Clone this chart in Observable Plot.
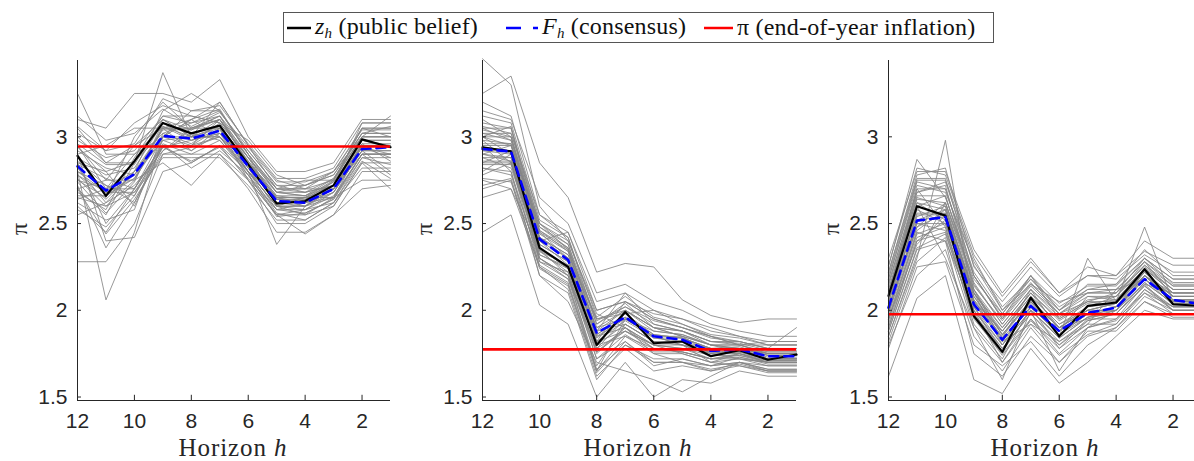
<!DOCTYPE html>
<html>
<head>
<meta charset="utf-8">
<script src="https://cdn.jsdelivr.net/npm/d3@7"></script>
<script src="https://cdn.jsdelivr.net/npm/@observablehq/plot@0.6"></script>
<style>
  html, body { margin: 0; padding: 0; background: #fff; overflow: hidden; }
  #wrap { position: relative; width: 1194px; height: 461px; overflow: hidden; }
  .panel { position: absolute; top: 50px; }
  .panel svg { max-width: none !important; }
  .xlab { position: absolute; top: 437px; line-height: 22px; font-family: "Liberation Serif", "DejaVu Serif", serif; font-size: 25px; letter-spacing: 0.9px; color: #262626; transform: translateX(-50%); white-space: nowrap; }
  .ylab { position: absolute; top: 229px; line-height: 22px; font-family: "Liberation Serif", serif; font-size: 24px; color: #262626; transform: translate(-50%, -50%) rotate(-90deg); }
  #legend { position: absolute; left: 283px; top: 12px; width: 711px; height: 31px; box-sizing: border-box; border: 1px solid #555; background: #fff;
            font-family: "Liberation Serif", serif; font-size: 24px; letter-spacing: 0.2px; color: #111; white-space: nowrap; }
  #legend .item { position: absolute; top: 0; height: 29px; display: flex; align-items: center; }
  #legend svg { margin-right: 4px; }
  sub { font-size: 15px; vertical-align: -4px; }
</style>
</head>
<body>
<div id="wrap">
  <div id="legend">
    <div class="item" style="left:3px"><svg width="24" height="10"><line x1="0" y1="5" x2="24" y2="5" stroke="#000" stroke-width="2.5"/></svg><span><i>z</i><sub><i>h</i></sub> (public belief)</span></div>
    <div class="item" style="left:222px"><svg width="32" height="10"><line x1="0" y1="5" x2="32" y2="5" stroke="#0000ff" stroke-width="2.5" stroke-dasharray="15,12,5"/></svg><span><i>F</i><sub><i>h</i></sub> (consensus)</span></div>
    <div class="item" style="left:420px"><svg width="29" height="10"><line x1="0" y1="5" x2="29" y2="5" stroke="#ff0000" stroke-width="2.5"/></svg><span>π (end-of-year inflation)</span></div>
  </div>
</div>
<script>
const horizons = [12, 11, 10, 9, 8, 7, 6, 5, 4, 3, 2, 1];
const xTicks = [12, 10, 8, 6, 4, 2];
const yTicks = [1.5, 2, 2.5, 3];

// Panel 1
const p1Z = [2.89, 2.66, 2.86, 3.08, 3.02, 3.065, 2.84, 2.615, 2.63, 2.72, 2.985, 2.94];
const p1F = [2.83, 2.69, 2.785, 3.005, 2.99, 3.035, 2.83, 2.63, 2.62, 2.70, 2.93, 2.94];
const p1Pi = 2.944;
const p1Grey = [
  [2.95,2.75,2.75,3.05,3.05,3.10,2.85,2.65,2.60,2.70,2.95,2.95],
  [2.70,2.55,2.85,3.10,3.00,3.00,2.80,2.60,2.60,2.75,3.00,3.00],
  [3.25,2.90,2.90,3.00,3.15,3.15,2.90,2.70,2.70,2.70,2.90,2.90],
  [2.60,2.45,2.70,2.95,2.95,3.05,2.75,2.55,2.55,2.65,2.95,2.95],
  [2.85,2.80,2.60,2.95,2.85,2.95,2.80,2.60,2.65,2.75,3.05,3.05],
  [2.75,2.65,3.00,3.20,3.05,3.10,2.85,2.65,2.65,2.70,2.95,2.95],
  [2.90,2.95,3.05,3.05,3.10,3.20,2.95,2.75,2.70,2.80,3.00,3.00],
  [2.28,2.28,2.50,2.90,2.90,2.90,2.75,2.50,2.50,2.60,2.85,2.85],
  [2.80,2.06,2.45,3.00,3.00,3.05,2.80,2.60,2.60,2.65,2.90,2.90],
  [3.05,2.85,2.85,3.37,3.00,3.00,2.85,2.65,2.65,2.65,2.75,2.75],
  [2.65,2.60,2.75,2.85,2.72,2.90,2.70,2.45,2.45,2.55,2.80,2.80],
  [3.10,3.05,3.25,3.25,3.20,3.33,3.00,2.80,2.80,2.85,3.10,3.10],
  [2.75,2.70,2.70,3.00,3.10,3.00,2.80,2.38,2.60,2.70,2.95,2.95],
  [2.95,2.70,2.80,3.15,3.25,3.15,2.90,2.70,2.70,2.75,3.05,3.05],
  [2.85,2.50,2.70,2.95,2.95,3.10,2.90,2.60,2.55,2.60,2.85,2.70],
  [2.70,2.75,2.95,3.05,3.05,3.05,2.80,2.65,2.62,2.65,2.90,2.78],
  [2.90,2.40,2.42,2.80,2.85,2.95,2.75,2.55,2.44,2.55,2.70,2.72],
  [3.00,2.85,2.95,3.10,3.00,3.20,2.95,2.70,2.75,2.75,3.00,3.12],
  [2.55,2.62,2.80,3.00,2.95,3.00,2.85,2.62,2.65,2.72,2.98,2.98],
  [2.80,2.72,2.62,2.92,3.02,2.98,2.78,2.58,2.58,2.62,2.88,2.88],
  [2.68,2.58,2.88,3.12,3.12,3.08,2.88,2.68,2.72,2.78,3.02,3.02],
  [2.92,2.82,2.78,2.98,2.92,3.05,2.82,2.62,2.62,2.68,2.92,2.92],
  [2.78,2.68,2.68,2.88,2.88,2.88,2.72,2.52,2.52,2.62,2.82,2.82],
  [2.62,2.52,2.58,3.02,3.08,3.12,2.92,2.72,2.68,2.72,3.08,3.08],
  [3.02,2.92,3.08,3.18,3.12,3.08,2.98,2.78,2.72,2.80,3.05,3.00],
  [2.72,2.36,2.62,2.95,2.82,2.92,2.78,2.55,2.58,2.68,2.92,2.80],
  [2.88,2.78,2.82,3.08,2.98,3.02,2.85,2.68,2.68,2.72,2.95,2.95],
  [2.82,2.62,2.72,2.92,3.05,3.12,2.88,2.62,2.62,2.70,2.98,2.95],
  [2.98,2.88,2.92,3.12,3.08,3.15,2.92,2.72,2.72,2.78,3.02,3.02],
  [2.66,2.66,2.78,3.05,2.92,3.02,2.84,2.62,2.60,2.68,2.94,2.90],
  [2.86,2.72,2.66,2.98,3.00,3.10,2.86,2.66,2.64,2.74,2.96,2.86],
  [2.74,2.56,2.74,3.08,3.02,3.06,2.82,2.58,2.56,2.64,2.90,2.90],
  [3.06,2.92,2.96,3.22,3.15,3.18,2.96,2.76,2.76,2.82,3.08,3.08],
  [2.58,2.48,2.66,2.94,2.98,3.02,2.80,2.56,2.52,2.62,2.86,2.76],
  [2.94,2.80,2.86,3.02,2.96,3.08,2.88,2.68,2.66,2.74,2.98,2.98],
  [2.78,2.64,2.80,3.04,3.04,3.12,2.84,2.64,2.64,2.70,2.96,2.96],
  [2.84,2.76,2.70,2.96,2.90,2.98,2.80,2.60,2.58,2.66,2.90,2.90],
  [2.70,2.44,2.64,2.90,2.94,3.00,2.78,2.54,2.56,2.64,2.88,2.84],
  [3.12,2.98,3.02,3.16,3.06,3.14,2.94,2.74,2.74,2.80,3.04,3.04],
  [2.64,2.70,2.90,3.06,3.00,3.06,2.86,2.66,2.66,2.72,2.98,2.94],
  [2.90,2.66,2.76,3.00,3.10,3.16,2.90,2.68,2.66,2.76,3.00,3.00],
  [2.76,2.60,2.68,2.94,2.86,2.94,2.76,2.58,2.62,2.70,2.94,2.88],
  [2.96,2.84,2.84,3.10,3.04,3.10,2.88,2.70,2.68,2.76,3.02,3.06],
  [2.80,2.68,2.76,3.06,2.98,3.04,2.82,2.64,2.62,2.70,2.92,2.92]
];

// Panel 2
const p2Z = [2.94, 2.916, 2.36, 2.25, 1.80, 1.99, 1.81, 1.82, 1.735, 1.77, 1.715, 1.745];
const p2F = [2.93, 2.915, 2.41, 2.29, 1.87, 1.96, 1.85, 1.83, 1.765, 1.775, 1.735, 1.735];
const p2Pi = 1.775;
const p2Grey = [
  [3.00,3.00,2.45,2.30,1.85,1.95,1.85,1.85,1.80,1.80,1.75,1.75],
  [2.85,2.85,2.30,2.20,1.75,1.90,1.80,1.80,1.75,1.75,1.70,1.70],
  [3.45,3.30,2.60,2.40,2.00,2.05,1.95,1.90,1.85,1.80,1.80,1.80],
  [2.75,2.70,2.25,2.15,1.65,1.85,1.75,1.75,1.70,1.75,1.70,1.70],
  [3.05,3.05,2.50,2.35,1.95,2.00,1.90,1.85,1.80,1.80,1.75,1.75],
  [2.45,2.55,2.03,1.92,1.50,1.70,1.50,1.60,1.58,1.65,1.62,1.62],
  [3.25,3.35,2.85,2.65,2.22,2.27,2.25,2.06,1.97,1.93,1.95,1.95],
  [2.90,2.95,2.40,2.30,1.90,1.95,1.85,1.80,1.78,1.78,1.75,1.75],
  [3.10,3.00,2.40,2.45,2.05,2.10,2.00,1.95,1.90,1.85,1.80,1.80],
  [2.95,2.80,2.20,2.10,1.60,1.80,1.70,1.70,1.65,1.70,1.65,1.65],
  [2.80,2.90,2.35,2.25,1.80,2.00,1.90,1.85,1.75,1.78,1.72,1.72],
  [3.00,2.95,2.50,2.40,1.98,1.90,1.80,1.75,1.70,1.72,1.68,1.68],
  [2.70,2.75,2.20,2.05,1.70,1.65,1.60,1.53,1.62,1.70,1.66,1.66],
  [3.15,3.10,2.65,2.50,2.10,2.15,2.05,2.00,1.92,1.88,1.85,1.85],
  [2.88,2.88,2.32,2.25,1.88,1.92,1.82,1.82,1.78,1.76,1.72,1.72],
  [3.05,2.98,2.45,2.35,1.82,2.05,1.95,1.90,1.85,1.82,1.78,1.90],
  [2.92,2.92,2.28,2.18,1.78,1.88,1.78,1.78,1.72,1.72,1.70,1.70],
  [2.65,2.70,2.35,2.20,1.65,1.95,1.85,1.80,1.70,1.68,1.65,1.65],
  [3.02,3.02,2.55,2.42,1.92,2.02,1.92,1.88,1.82,1.82,1.78,1.78],
  [2.98,2.85,2.38,2.28,1.85,1.90,1.75,1.70,1.68,1.73,1.70,1.70],
  [3.08,3.05,2.42,2.32,1.95,1.98,2.00,1.92,1.85,1.80,1.82,1.82],
  [2.82,2.80,2.28,2.22,1.72,1.82,1.68,1.72,1.68,1.70,1.68,1.68],
  [2.95,2.95,2.48,2.38,1.88,2.10,1.92,1.88,1.80,1.76,1.76,1.76],
  [2.78,2.85,2.25,2.12,1.62,1.78,1.65,1.68,1.65,1.68,1.64,1.64],
  [3.20,3.12,2.55,2.45,2.00,2.05,1.98,1.95,1.88,1.85,1.82,1.82],
  [2.90,2.88,2.38,2.28,1.80,1.85,1.78,1.76,1.72,1.75,1.72,1.72],
  [3.00,2.90,2.42,2.30,1.78,1.95,1.88,1.86,1.80,1.78,1.74,1.74],
  [2.85,2.92,2.30,2.18,1.68,1.92,1.82,1.80,1.75,1.72,1.70,1.70],
  [2.96,2.96,2.44,2.34,1.86,1.98,1.86,1.84,1.78,1.78,1.74,1.74],
  [2.88,2.82,2.36,2.24,1.76,1.88,1.80,1.78,1.74,1.76,1.72,1.72],
  [3.04,3.00,2.48,2.36,1.92,2.04,1.90,1.88,1.82,1.80,1.76,1.76],
  [2.82,2.78,2.30,2.20,1.72,1.86,1.76,1.76,1.72,1.74,1.70,1.70],
  [3.12,3.08,2.52,2.42,1.96,2.08,1.96,1.92,1.86,1.84,1.80,1.80],
  [2.92,2.90,2.34,2.26,1.82,1.94,1.84,1.82,1.76,1.76,1.72,1.72],
  [2.76,2.74,2.26,2.16,1.66,1.80,1.72,1.72,1.68,1.70,1.66,1.66],
  [3.00,3.06,2.46,2.34,1.90,2.00,1.88,1.86,1.80,1.78,1.75,1.75],
  [2.86,2.86,2.40,2.26,1.84,1.96,1.86,1.84,1.78,1.77,1.73,1.73],
  [2.94,2.92,2.36,2.24,1.80,1.92,1.82,1.80,1.74,1.74,1.71,1.71],
  [3.06,3.02,2.50,2.38,1.94,2.02,1.94,1.90,1.84,1.82,1.78,1.78],
  [2.72,2.76,2.24,2.14,1.64,1.82,1.70,1.70,1.66,1.69,1.65,1.65],
  [2.98,2.96,2.42,2.32,1.86,1.96,1.84,1.84,1.78,1.79,1.74,1.74],
  [2.84,2.84,2.34,2.22,1.76,1.90,1.78,1.76,1.72,1.73,1.69,1.69],
  [3.02,2.98,2.46,2.36,1.88,2.00,1.90,1.88,1.82,1.81,1.77,1.77],
  [2.90,2.86,2.32,2.24,1.82,1.88,1.80,1.78,1.76,1.75,1.71,1.71]
];

// Panel 3
const p3Z = [2.083, 2.60, 2.546, 1.967, 1.76, 2.073, 1.85, 2.025, 2.045, 2.237, 2.035, 2.025];
const p3F = [2.015, 2.517, 2.537, 2.035, 1.83, 2.025, 1.88, 1.985, 2.015, 2.18, 2.06, 2.035];
const p3Pi = 1.977;
const p3Grey = [
  [2.05,2.55,2.55,2.05,1.85,2.05,1.90,2.00,2.00,2.20,2.05,2.05],
  [1.90,2.40,2.45,1.95,1.75,1.95,1.80,1.95,1.95,2.15,2.00,2.00],
  [2.20,2.75,2.75,2.30,2.00,2.15,2.05,2.10,2.10,2.30,2.15,2.15],
  [1.62,2.07,2.20,1.60,1.52,1.78,1.58,1.70,1.85,2.00,1.95,1.95],
  [2.10,2.65,2.60,2.10,1.90,2.10,1.95,2.05,2.05,2.20,2.10,2.10],
  [2.25,2.87,2.65,2.20,1.95,2.20,2.00,2.15,2.15,2.35,2.20,2.20],
  [1.85,2.30,2.98,2.00,1.80,2.00,1.85,2.30,2.05,2.48,2.05,2.05],
  [2.00,2.50,2.50,2.10,1.80,2.05,1.90,1.95,2.00,2.15,2.10,2.10],
  [1.95,2.45,2.40,2.00,1.70,1.95,1.75,1.90,1.95,2.10,2.02,2.02],
  [2.30,2.80,2.80,2.35,2.10,2.30,2.10,2.20,2.20,2.40,2.30,2.30],
  [1.80,2.20,2.35,1.85,1.65,1.90,1.70,1.85,1.90,2.05,1.98,1.98],
  [2.15,2.70,2.70,2.20,1.95,2.15,2.00,2.10,2.10,2.25,2.12,2.12],
  [2.05,2.60,2.30,1.90,1.60,2.00,1.65,1.90,2.00,2.18,2.05,2.05],
  [1.98,2.52,2.58,2.05,1.88,2.08,1.92,2.02,2.08,2.28,2.08,2.08],
  [2.12,2.62,2.52,2.12,1.82,1.92,1.82,1.92,1.92,2.12,2.02,2.02],
  [1.88,2.35,2.40,1.75,1.62,1.85,1.70,1.88,1.88,2.05,1.96,1.96],
  [2.22,2.78,2.82,2.25,2.05,2.25,2.08,2.20,2.18,2.32,2.22,2.22],
  [2.02,2.48,2.62,2.15,1.92,2.12,1.98,2.05,2.02,2.22,2.08,2.08],
  [1.92,2.42,2.48,1.98,1.78,1.98,1.80,1.92,2.12,2.18,2.03,2.03],
  [2.08,2.68,2.72,2.12,1.86,2.05,1.86,1.98,2.02,2.20,2.06,2.06],
  [1.78,2.25,2.28,1.80,1.68,1.82,1.62,1.80,1.90,2.08,2.00,2.00],
  [2.18,2.72,2.68,2.28,2.02,2.18,2.02,2.12,2.15,2.30,2.18,2.18],
  [2.00,2.58,2.50,2.02,1.76,2.00,1.84,1.96,2.00,2.16,2.04,2.04],
  [1.95,2.38,2.55,2.08,1.84,2.12,1.88,2.08,2.06,2.24,2.12,2.12],
  [2.10,2.70,2.48,1.92,1.72,2.02,1.78,1.94,1.98,2.14,2.00,2.00],
  [1.85,2.32,2.62,2.18,1.98,2.20,1.95,2.05,2.10,2.26,2.14,2.14],
  [2.06,2.56,2.56,2.06,1.88,2.10,1.90,2.00,2.04,2.20,2.08,2.08],
  [2.26,2.82,2.78,2.32,2.08,2.28,2.10,2.25,2.20,2.34,2.26,2.26],
  [2.04,2.54,2.60,2.08,1.86,2.06,1.90,2.02,2.04,2.22,2.08,2.08],
  [1.94,2.44,2.50,2.02,1.80,2.00,1.84,1.96,1.98,2.16,2.04,2.04],
  [2.14,2.66,2.66,2.16,1.92,2.12,1.96,2.06,2.08,2.24,2.10,2.10],
  [1.88,2.36,2.44,1.96,1.74,1.94,1.78,1.90,1.94,2.12,2.00,2.00],
  [2.18,2.74,2.70,2.22,1.98,2.18,2.00,2.12,2.12,2.28,2.16,2.16],
  [2.00,2.52,2.54,2.04,1.82,2.04,1.88,1.98,2.02,2.18,2.06,2.06],
  [1.96,2.46,2.58,2.10,1.88,2.08,1.92,2.00,2.04,2.22,2.06,2.06],
  [2.12,2.64,2.62,2.12,1.90,2.10,1.94,2.04,2.06,2.24,2.10,2.10],
  [1.82,2.28,2.42,1.90,1.70,1.92,1.74,1.86,1.92,2.10,1.98,1.98],
  [2.08,2.60,2.66,2.14,1.94,2.14,1.98,2.08,2.08,2.26,2.12,2.12],
  [2.02,2.50,2.46,2.00,1.78,1.98,1.82,1.94,1.98,2.14,2.02,2.02],
  [2.16,2.68,2.74,2.26,2.00,2.20,2.04,2.14,2.14,2.30,2.18,2.18],
  [1.90,2.40,2.52,2.04,1.84,2.02,1.86,1.98,2.00,2.20,2.04,2.04],
  [2.10,2.62,2.58,2.10,1.86,2.06,1.90,2.00,2.04,2.20,2.08,2.08],
  [1.98,2.48,2.56,2.06,1.82,2.02,1.86,1.96,2.02,2.18,2.06,2.06],
  [2.22,2.76,2.76,2.20,1.96,2.16,1.98,2.10,2.12,2.28,2.14,2.14]
];

const panels = [
  {grey: p1Grey, z: p1Z, f: p1F, pi: p1Pi, left: 0,   ml: 77, w: 313, ylabX: 19,  xlabX: 233},
  {grey: p2Grey, z: p2Z, f: p2F, pi: p2Pi, left: 400, ml: 82, w: 314, ylabX: 424, xlabX: 638},
  {grey: p3Grey, z: p3Z, f: p3F, pi: p3Pi, left: 800, ml: 88, w: 313, ylabX: 831, xlabX: 1045}
];

const wrap = document.getElementById("wrap");
const axisColor = "#262626";
const yMin = 1.48, yMax = 3.44;

for (const p of panels) {
  const greyRows = p.grey.flatMap((s, i) => s.map((v, j) => ({h: horizons[j], v, id: i})));
  const zRows = p.z.map((v, j) => ({h: horizons[j], v}));
  const fRows = p.f.map((v, j) => ({h: horizons[j], v}));
  const W = p.ml + p.w + 6;
  const chart = Plot.plot({
    width: W,
    height: 410,
    marginLeft: p.ml,
    marginRight: 6,
    marginTop: 10,
    marginBottom: 60,
    style: {fontFamily: "'Liberation Sans', Arial, sans-serif", fontSize: "21px", color: axisColor, background: "transparent", overflow: "visible", maxWidth: "none"},
    x: {domain: [12, 1]},
    y: {domain: [yMin, yMax]},
    marks: [
      Plot.line(greyRows, {x: "h", y: "v", z: "id", stroke: "#858585", strokeWidth: 0.85}),
      Plot.line(zRows, {x: "h", y: "v", stroke: "#000", strokeWidth: 2.2}),
      Plot.line(fRows, {x: "h", y: "v", stroke: "#0000ff", strokeWidth: 2.6, strokeDasharray: "9,6"}),
      Plot.ruleY([p.pi], {stroke: "#ff0000", strokeWidth: 2.6}),
      Plot.axisX(xTicks, {tickSize: 0, tickPadding: 13, label: null, tickFormat: d => String(d), fill: axisColor}),
      Plot.axisY(yTicks, {tickSize: 0, tickPadding: 10, label: null, tickFormat: d => String(d), fill: axisColor}),
      Plot.ruleX(xTicks, {x: d => d, y1: yMin, y2: yMin + 0.03, stroke: axisColor, strokeWidth: 1}),
      Plot.ruleY(yTicks, {y: d => d, x1: 12, x2: 11.86, stroke: axisColor, strokeWidth: 1}),
      Plot.ruleY([yMin], {stroke: axisColor, strokeWidth: 1}),
      Plot.ruleX([12], {stroke: axisColor, strokeWidth: 1})
    ]
  });
  const div = document.createElement("div");
  div.className = "panel";
  div.style.left = p.left + "px";
  div.style.width = W + "px";
  div.appendChild(chart);
  wrap.appendChild(div);

  const xl = document.createElement("div");
  xl.className = "xlab";
  xl.style.left = p.xlabX + "px";
  xl.innerHTML = "Horizon <i>h</i>";
  wrap.appendChild(xl);

  const yl = document.createElement("div");
  yl.className = "ylab";
  yl.style.left = p.ylabX + "px";
  yl.textContent = "π";
  wrap.appendChild(yl);
}
</script>
</body>
</html>
